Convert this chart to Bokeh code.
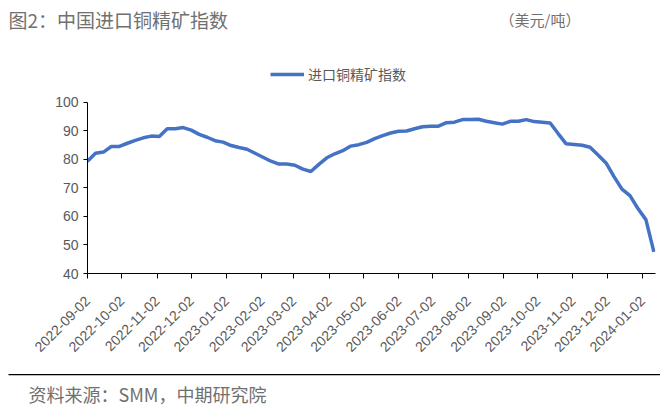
import pandas as pd
from bokeh.plotting import figure
from bokeh.layouts import column, row
from bokeh.models import (FixedTicker, DatetimeTickFormatter, Legend, LegendItem,
                          Label, BoxAnnotation, Range1d)
from bokeh.embed import file_html
from bokeh.resources import INLINE

# ---------------- data ----------------
dates = [
    "2022-09-02", "2022-09-09", "2022-09-16", "2022-09-23", "2022-09-30",
    "2022-10-07", "2022-10-14", "2022-10-21", "2022-10-28",
    "2022-11-04", "2022-11-11", "2022-11-18", "2022-11-25",
    "2022-12-02", "2022-12-09", "2022-12-16", "2022-12-23", "2022-12-30",
    "2023-01-06", "2023-01-13", "2023-01-20", "2023-01-27",
    "2023-02-03", "2023-02-10", "2023-02-17", "2023-02-24",
    "2023-03-03", "2023-03-10", "2023-03-17", "2023-03-24", "2023-03-31",
    "2023-04-07", "2023-04-14", "2023-04-21", "2023-04-28",
    "2023-05-05", "2023-05-12", "2023-05-19", "2023-05-26",
    "2023-06-02", "2023-06-09", "2023-06-16", "2023-06-23", "2023-06-30",
    "2023-07-07", "2023-07-14", "2023-07-21", "2023-07-28",
    "2023-08-04", "2023-08-11", "2023-08-18", "2023-08-25",
    "2023-09-01", "2023-09-08", "2023-09-15", "2023-09-22", "2023-09-29",
    "2023-10-06", "2023-10-13", "2023-10-20", "2023-10-27",
    "2023-11-03", "2023-11-10", "2023-11-17", "2023-11-24",
    "2023-12-01", "2023-12-08", "2023-12-15", "2023-12-22", "2023-12-29",
    "2024-01-05", "2024-01-12",
]
index_values = [
    79.4, 82.2, 82.6, 84.6, 84.6,
    85.7, 86.7, 87.6, 88.2,
    88.1, 90.8, 90.8, 91.2,
    90.3, 88.8, 87.8, 86.6, 86.1,
    84.9, 84.2, 83.6, 82.2,
    80.8, 79.4, 78.4, 78.4,
    78.0, 76.6, 75.8, 78.3, 80.6,
    82.0, 83.1, 84.7, 85.2,
    86.0, 87.3, 88.4, 89.3,
    89.9, 90.0, 90.8, 91.5, 91.7,
    91.7, 92.9, 93.1, 94.0,
    94.0, 94.1, 93.4, 92.9,
    92.4, 93.4, 93.4, 94.0, 93.3,
    93.1, 92.8, 89.1, 85.5,
    85.3, 85.0, 84.3, 81.6,
    78.8, 74.0, 69.6, 67.3,
    62.8, 58.9, 47.6,
]
tick_labels = [
    "2022-09-02", "2022-10-02", "2022-11-02", "2022-12-02",
    "2023-01-02", "2023-02-02", "2023-03-02", "2023-04-02",
    "2023-05-02", "2023-06-02", "2023-07-02", "2023-08-02",
    "2023-09-02", "2023-10-02", "2023-11-02", "2023-12-02",
    "2024-01-02",
]
y_ticks = [40, 50, 60, 70, 80, 90, 100]
series_name = "进口铜精矿指数"
title_text = "图2：中国进口铜精矿指数"
unit_text = "（美元/吨）"
source_text = "资料来源：SMM，中期研究院"

# ---------------- styling ----------------
CJK = "Noto Sans CJK SC"
NUM = "Liberation Sans"
GRAY = "#595959"
TXT = "#707070"
W = 660


def blank_fig(height):
    f = figure(width=W, height=height, output_backend="svg", toolbar_location=None,
               x_range=Range1d(0, W), y_range=Range1d(height, 0),
               x_axis_location=None, y_axis_location=None,
               min_border_left=0, min_border_right=0, min_border_top=0, min_border_bottom=0)
    f.outline_line_color = None
    f.grid.visible = False
    f.background_fill_color = "white"
    f.border_fill_color = "white"
    return f


# ---------------- header ----------------
header = blank_fig(40)
header.add_layout(Label(x=8, y=19, text=title_text, text_font=CJK, text_font_size="19px",
                        text_color=TXT, text_baseline="middle", text_align="left"))
header.add_layout(Label(x=499, y=19, text=unit_text, text_font=CJK, text_font_size="15px",
                        text_color=TXT, text_baseline="middle", text_align="left"))

# ---------------- main chart ----------------
x = pd.to_datetime(dates)
tick_ms = [pd.Timestamp(t).value // 10**6 for t in tick_labels]

p = figure(width=W, height=332, output_backend="svg", toolbar_location=None,
           x_axis_type="datetime",
           x_range=Range1d(pd.Timestamp("2022-09-02"), pd.Timestamp("2024-01-13 10:00")),
           y_range=Range1d(40, 121.75),
           min_border_left=87, min_border_right=5, min_border_top=0, min_border_bottom=99)
p.outline_line_color = None
p.grid.visible = False
p.background_fill_color = "white"
p.border_fill_color = "white"

r = p.line(x, index_values, line_color="#4472C4", line_width=3.5)

xa = p.xaxis[0]
xa.ticker = FixedTicker(ticks=tick_ms)
fmt = "%Y-%m-%d"
xa.formatter = DatetimeTickFormatter(years=fmt, months=fmt, days=fmt, hours=fmt,
                                     hourmin=fmt, minutes=fmt, minsec=fmt,
                                     seconds=fmt, milliseconds=fmt, microseconds=fmt)
xa.major_label_orientation = 0.785398
xa.major_label_text_font = NUM
xa.major_label_text_font_size = "14px"
xa.major_label_text_color = GRAY
xa.axis_line_color = "black"
xa.major_tick_line_color = "black"
xa.major_tick_in = 0
xa.major_tick_out = 5
xa.minor_tick_line_color = None
xa.major_label_standoff = 20

ya = p.yaxis[0]
ya.ticker = FixedTicker(ticks=y_ticks)
ya.bounds = (40, 100)
ya.major_label_text_font = NUM
ya.major_label_text_font_size = "14px"
ya.major_label_text_color = GRAY
ya.axis_line_color = "black"
ya.major_tick_line_color = "black"
ya.major_tick_in = 0
ya.major_tick_out = 4
ya.minor_tick_line_color = None
ya.major_label_standoff = 5

legend = Legend(items=[LegendItem(label=series_name, renderers=[r])],
                location=(183, 189), orientation="horizontal",
                glyph_width=34, glyph_height=20, label_standoff=4,
                padding=0, margin=0, spacing=0,
                label_text_font=CJK, label_text_font_size="14px",
                label_text_color=GRAY,
                border_line_color=None, background_fill_alpha=0)
p.add_layout(legend, "center")

# ---------------- footer ----------------
footer = blank_fig(37)
footer.add_layout(BoxAnnotation(left=8, right=W, top=1.5, bottom=2.7,
                                fill_color="black", fill_alpha=1, line_color=None))
footer.add_layout(Label(x=28, y=21, text=source_text, text_font=CJK, text_font_size="18px",
                        text_color=TXT, text_baseline="middle", text_align="left"))

layout = column(row(header), p, column(footer), spacing=0)
open("out.html", "w").write(file_html(layout, INLINE))
